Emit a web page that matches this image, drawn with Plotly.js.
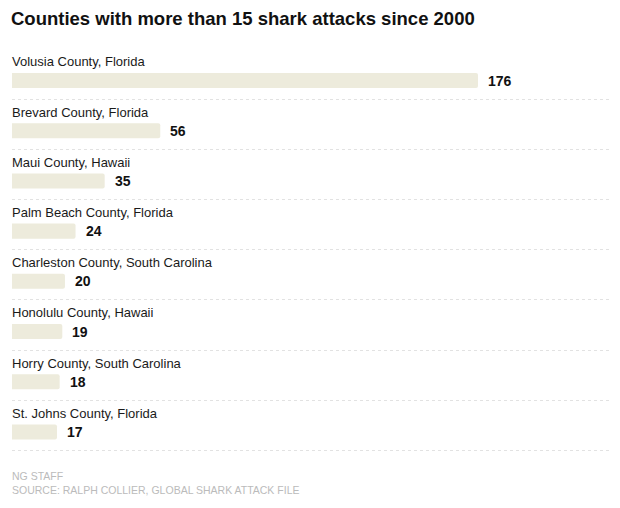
<!DOCTYPE html>
<html>
<head>
<meta charset="utf-8">
<script src="https://cdn.plot.ly/plotly-3.0.1.min.js"></script>
<style>html,body{margin:0;padding:0;background:#fff;}#chart{width:620px;height:508px;}</style>
</head>
<body>
<div id="chart"></div>
<script>
const counties = [
  "Volusia County, Florida",
  "Brevard County, Florida",
  "Maui County, Hawaii",
  "Palm Beach County, Florida",
  "Charleston County, South Carolina",
  "Honolulu County, Hawaii",
  "Horry County, South Carolina",
  "St. Johns County, Florida"
];
const attacks = [176, 56, 35, 24, 20, 19, 18, 17];
const titleText = "Counties with more than 15 shark attacks since 2000";
const footerLines = ["NG STAFF", "SOURCE: RALPH COLLIER, GLOBAL SHARK ATTACK FILE"];

const FONT = '"Liberation Sans", Arial, Helvetica, sans-serif';
const idx = counties.map((_, i) => i);
const LABEL_OFF = 0.37;
const SEP_OFF = 0.37;

const annotations = [];
counties.forEach((c, i) => {
  annotations.push({
    x: 0, y: i - LABEL_OFF, xref: 'x', yref: 'y', text: c,
    showarrow: false, xanchor: 'left', yanchor: 'middle', xshift: -2,
    font: {family: FONT, size: 13, color: '#1a1a1a'}
  });
  annotations.push({
    x: attacks[i], y: i, xref: 'x', yref: 'y', text: '<b>' + attacks[i] + '</b>',
    showarrow: false, xanchor: 'left', yanchor: 'middle', xshift: 8,
    font: {family: FONT, size: 14, color: '#111'}
  });
});
footerLines.forEach((t, k) => {
  annotations.push({
    x: 0, y: -0.05 - k * 0.035, xref: 'paper', yref: 'paper', text: t,
    showarrow: false, xanchor: 'left', yanchor: 'middle', xshift: -2,
    font: {family: FONT, size: 10.5, color: '#bbbbbb'}
  });
});

const trace = {
  type: 'bar', orientation: 'h',
  x: attacks, y: idx, width: 0.3,
  marker: {color: '#edebdc'},
  hoverinfo: 'skip'
};

const layout = {
  width: 620, height: 508,
  margin: {l: 12, r: 10, t: 40, b: 53},
  paper_bgcolor: '#fff', plot_bgcolor: '#fff',
  showlegend: false,
  barcornerradius: 2,
  title: {
    text: '<b>' + titleText + '</b>',
    x: 11 / 620, xref: 'container', xanchor: 'left',
    y: 1 - 18.5 / 508, yref: 'container', yanchor: 'middle',
    font: {family: FONT, size: 18.5, color: '#111'}
  },
  xaxis: {
    range: [0, 176 * 598 / 466], showgrid: false, zeroline: false,
    showticklabels: false, ticks: '', fixedrange: true
  },
  yaxis: {
    range: [7.46, -0.807], showgrid: true,
    tickvals: idx.map(i => i + SEP_OFF),
    gridcolor: '#e2e2e2', griddash: 'dot', gridwidth: 1,
    zeroline: false, showticklabels: false, ticks: '', fixedrange: true
  },
  annotations: annotations
};

Plotly.newPlot('chart', [trace], layout, {displayModeBar: false, staticPlot: true});
</script>
</body>
</html>
